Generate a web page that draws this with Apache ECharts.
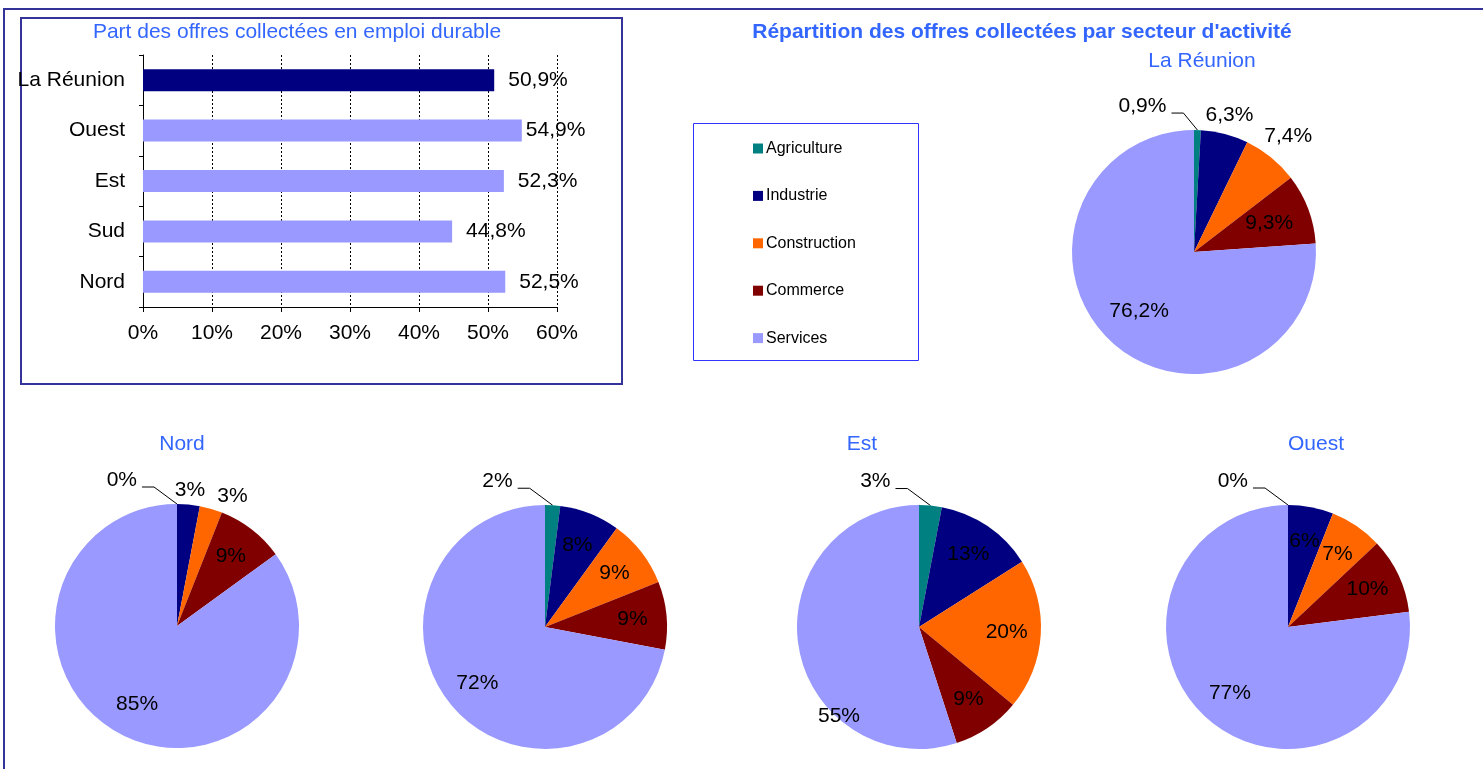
<!DOCTYPE html>
<html>
<head>
<meta charset="utf-8">
<script src="https://cdn.jsdelivr.net/npm/echarts@6/dist/echarts.min.js"></script>
<style>
  html, body { margin: 0; padding: 0; background: #fff; }
  #chart { width: 1483px; height: 769px; }
</style>
</head>
<body>
<div id="chart"></div>
<script>
// ---- data ----
const regions = ["La Réunion", "Ouest", "Est", "Sud", "Nord"];
const durableShare = [50.9, 54.9, 52.3, 44.8, 52.5];
const axisMin = 0, axisMax = 60, axisStep = 10;

const sectors = ["Agriculture", "Industrie", "Construction", "Commerce", "Services"];
const pieReunion = [0.9, 6.3, 7.4, 9.3, 76.2];
const pieNord = [0, 3, 3, 9, 85];
const pieSud = [2, 8, 9, 9, 72];
const pieEst = [3, 13, 20, 9, 55];
const pieOuest = [0, 6, 7, 10, 77];

// ---- styles / layout ----
const FONT = '"Liberation Sans", Arial, sans-serif';
const BLUE_TITLE = "#3366ff";
const sectorColors = ["#008080", "#000080", "#ff6600", "#800000", "#9999ff"];
const barLabelGap = [14, 4, 14, 14, 14];
const R = 122;

// place: where each slice label goes (inside, outside, outside with leader line)
// moved: Excel "best fit" moved some inside labels, [angle from top in deg, radius factor]
const pies = [
  { values: pieReunion, dec: 1, cx: 1194, cy: 252, title: "La Réunion", tx: 1202, ty: 61,
    place: ["line", "out", "out", "in", "in"], inK: 0.66, lead: [-14, -17], moved: {} },
  { values: pieNord, dec: 0, cx: 177, cy: 626, title: "Nord", tx: 182, ty: 444,
    place: ["line", "out", "out", "in", "in"], inK: 0.72, lead: [-23, -17], moved: {} },
  { values: pieSud, dec: 0, cx: 545, cy: 627, title: "", tx: 0, ty: 0,
    place: ["line", "in", "in", "in", "in"], inK: 0.72, lead: [-23, -17], moved: {} },
  { values: pieEst, dec: 0, cx: 919, cy: 627, title: "Est", tx: 862, ty: 444,
    place: ["line", "in", "in", "in", "in"], inK: 0.72, lead: [-23, -17], moved: { 4: [222, 0.98] } },
  { values: pieOuest, dec: 0, cx: 1288, cy: 627, title: "Ouest", tx: 1316, ty: 444,
    place: ["line", "in", "in", "in", "in"], inK: 0.72, lead: [-23, -17], moved: {} },
];

const fmt = (v, dec) => v.toFixed(dec).replace(".", ",") + "%";

// label placement, Excel-like: big slices inside, small ones outside
const measure = document.createElement("canvas").getContext("2d");
measure.font = "21px " + FONT;

function placeLabels(pie) {
  const total = pie.values.reduce((a, b) => a + b, 0);
  let acc = 0, prev = null;
  return pie.values.map((v, i) => {
    const mid = (acc + v / 2) / total * 2 * Math.PI;
    acc += v;
    const text = fmt(v, pie.dec);
    const w = measure.measureText(text).width, h = 15;
    const mode = pie.place[i];
    if (mode === "in") {
      let a = mid, d = R * pie.inK;
      if (pie.moved[i]) { a = pie.moved[i][0] * Math.PI / 180; d = R * pie.moved[i][1]; }
      return { x: pie.cx + d * Math.sin(a), y: pie.cy - d * Math.cos(a), align: "center", verticalAlign: "middle" };
    }
    if (mode === "line") {
      const p0 = [pie.cx + R * Math.sin(mid), pie.cy - R * Math.cos(mid)];
      const p1 = [p0[0] + pie.lead[0], p0[1] + pie.lead[1]];
      const p2 = [p1[0] - 12, p1[1]];
      return { x: p2[0] - 5, y: p2[1] - 7, align: "right", verticalAlign: "middle", labelLinePoints: [p0, p1, p2] };
    }
    let a = mid, r;
    for (let k = 0; k < 45; k++) {
      const d = R + 6 + (w / 2) * Math.abs(Math.sin(a)) + (h / 2) * Math.abs(Math.cos(a));
      const x = pie.cx + d * Math.sin(a), y = pie.cy - d * Math.cos(a);
      r = { x, y, x0: x - w / 2, x1: x + w / 2, y0: y - h / 2, y1: y + h / 2 };
      if (!prev || r.x0 >= prev.x1 + 12 || r.y0 >= prev.y1 + 2 || r.y1 <= prev.y0 - 2) break;
      a += Math.PI / 180;
    }
    prev = r;
    return { x: r.x, y: r.y, align: "center", verticalAlign: "middle" };
  });
}
const pieLabels = pies.map(placeLabels);

const chart = echarts.init(document.getElementById("chart"), null, { renderer: "canvas" });

const titles = [
  { text: "Part des offres collectées en emploi durable", left: 297, top: 32,
    textStyle: { color: BLUE_TITLE, fontSize: 21, fontWeight: "normal", fontFamily: FONT } },
  { text: "Répartition des offres collectées par secteur d'activité", left: 1022, top: 32,
    textStyle: { color: BLUE_TITLE, fontSize: 21, fontWeight: "bold", fontFamily: FONT } },
].concat(pies.filter((p) => p.title).map((p) => ({
  text: p.title, left: p.tx, top: p.ty,
  textStyle: { color: BLUE_TITLE, fontSize: 21, fontWeight: "normal", fontFamily: FONT },
}))).map((t) => Object.assign(t, { padding: 0, textAlign: "center", textVerticalAlign: "middle" }));

const pieSeries = pies.map((p, pi) => ({
  type: "pie",
  center: [p.cx, p.cy],
  radius: R,
  startAngle: 90,
  clockwise: true,
  silent: true,
  avoidLabelOverlap: false,
  itemStyle: { borderWidth: 0 },
  label: {
    show: true, color: "#000", fontSize: 21, fontFamily: FONT,
    formatter: (q) => fmt(q.value, p.dec),
  },
  labelLine: { length: 10, length2: 10, lineStyle: { color: "#000", width: 1 } },
  labelLayout: (q) => pieLabels[pi][q.dataIndex],
  emphasis: { disabled: true },
  data: p.values.map((v, i) => ({
    name: sectors[i],
    value: v,
    itemStyle: { color: sectorColors[i] },
    label: { position: p.place[i] === "in" ? "inside" : "outside" },
    labelLine: { show: p.place[i] === "line" },
  })),
}));

chart.setOption({
  animation: false,
  backgroundColor: "#fff",
  title: titles,
  graphic: [
    { type: "rect", shape: { x: 4, y: 9, width: 1520, height: 820 },
      style: { fill: null, stroke: "#333399", lineWidth: 2 } },
    { type: "rect", shape: { x: 21, y: 18, width: 601, height: 366 },
      style: { fill: null, stroke: "#333399", lineWidth: 2 } },
    { type: "rect", shape: { x: 693.5, y: 123.5, width: 225, height: 237 },
      style: { fill: null, stroke: "#3333ff", lineWidth: 1 } },
  ],
  legend: {
    orient: "vertical",
    left: 753,
    top: 140.5,
    padding: 0,
    itemWidth: 10,
    itemHeight: 10,
    itemGap: 31.4,
    icon: "rect",
    selectedMode: false,
    data: sectors,
    textStyle: { color: "#000", fontSize: 16, fontFamily: FONT, padding: [0, 0, 0, -2] },
  },
  grid: { left: 143, top: 55, width: 414, height: 252, containLabel: false },
  xAxis: {
    type: "value",
    min: axisMin,
    max: axisMax,
    interval: axisStep,
    axisLine: { show: true, lineStyle: { color: "#000", width: 1 } },
    axisTick: { show: true, length: 5, lineStyle: { color: "#000" } },
    axisLabel: { color: "#000", fontSize: 21, fontFamily: FONT, margin: 16, formatter: "{value}%" },
    splitLine: { show: true, lineStyle: { color: "#000", width: 1, type: [2, 2] } },
  },
  yAxis: {
    type: "category",
    data: regions,
    inverse: true,
    axisLine: { show: true, lineStyle: { color: "#000", width: 1 } },
    axisTick: { show: true, length: 4, lineStyle: { color: "#000" } },
    axisLabel: { color: "#000", fontSize: 21, fontFamily: FONT, margin: 18 },
    splitLine: { show: false },
  },
  series: [
    {
      type: "bar",
      barWidth: 22,
      silent: true,
      data: durableShare.map((v, i) => ({
        value: v,
        itemStyle: { color: i === 0 ? "#000080" : "#9999ff" },
        label: { distance: barLabelGap[i] },
      })),
      label: {
        show: true, position: "right", color: "#000", fontSize: 21, fontFamily: FONT,
        formatter: (q) => fmt(q.value, 1),
      },
    },
  ].concat(pieSeries),
});
</script>
</body>
</html>
